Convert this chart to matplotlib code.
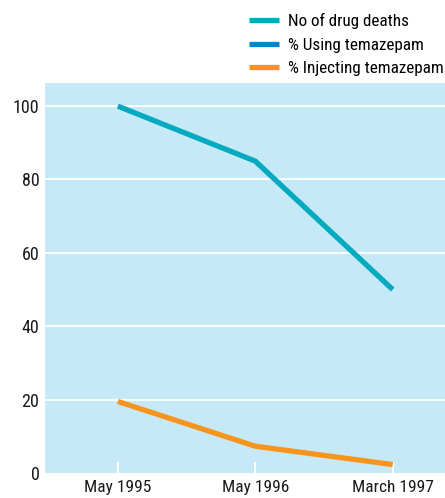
import matplotlib
matplotlib.use("Agg")
import matplotlib.pyplot as plt
import numpy as np
from matplotlib import font_manager

categories = ["May 1995", "May 1996", "March 1997"]
drug_deaths = [100, 85, 50]
using_temazepam = [np.nan, np.nan, np.nan]
injecting_temazepam = [19.5, 7.3, 2.3]
y_ticks = [0, 20, 40, 60, 80, 100]

names = {f.name for f in font_manager.fontManager.ttflist}
fam = "DejaVu Sans"
for cand in ["Liberation Sans Narrow", "DejaVu Sans Condensed", "Roboto Condensed"]:
    if cand in names:
        fam = cand
        break
plt.rcParams['font.family'] = [fam, 'DejaVu Sans']
plt.rcParams['font.stretch'] = 'condensed'

fig = plt.figure(figsize=(4.45, 4.98), dpi=100)
W, H = 445, 498
left, right, top, bottom = 45, 445, 83, 473
ax = fig.add_axes([left / W, 1 - bottom / H, (right - left) / W, (bottom - top) / H])
ax.set_facecolor("#C6E9F8")
for s in ax.spines.values():
    s.set_visible(False)

x = np.arange(len(categories))
l1, = ax.plot(x, drug_deaths, color="#00AABF", lw=3.8, solid_capstyle="butt", label="No of drug deaths")
l2, = ax.plot(x, using_temazepam, color="#0484CC", lw=3.8, solid_capstyle="butt", label="% Using temazepam")
l3, = ax.plot(x, injecting_temazepam, color="#F7941D", lw=3.8, solid_capstyle="butt", label="% Injecting temazepam")

ax.set_xlim(-0.53, 2.38)
ax.set_ylim(0, 106.3)
ax.set_yticks(y_ticks)
ax.set_yticklabels([str(v) for v in y_ticks], fontsize=13, color="#1a1a1a")
ax.tick_params(axis="y", length=0, pad=4)
for v in y_ticks[1:]:
    ax.axhline(v, color="white", lw=1.3, zorder=1)
ax.set_xticks(x)
ax.set_xticklabels(categories, fontsize=12.5, color="#1a1a1a")
ax.tick_params(axis="x", direction="in", length=8, width=1.5, color="white", pad=5)

fig.legend(handles=[l1, l2, l3], loc="upper left", bbox_to_anchor=(249 / W, 1 - 13 / H),
           frameon=False, fontsize=12.3, handlelength=1.75, handletextpad=0.55,
           labelspacing=0.5, borderpad=0, borderaxespad=0)

fig.savefig("out.png", dpi=100)
